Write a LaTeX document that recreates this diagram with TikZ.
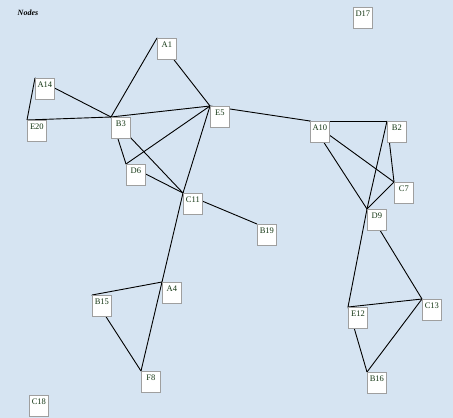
\documentclass[tikz,border=0pt]{standalone}
\usepackage{fontspec}
\setmainfont{Liberation Serif}
\usetikzlibrary{backgrounds,shadows}
\definecolor{bgblue}{RGB}{214,228,242}
\definecolor{labelgreen}{RGB}{20,55,20}

\begin{document}
\begin{tikzpicture}[x=1pt, y=-1pt, thick,
    main/.style = {draw=gray!75, fill=white, rectangle, anchor=north west,
        minimum width=19pt, minimum height=21pt, inner sep=0pt,
        text height=9pt, text depth=11pt, text=labelgreen,
        font=\fontsize{8.5}{9}\selectfont,
        drop shadow={shadow xshift=0.9pt, shadow yshift=-0.9pt, fill=gray!60, opacity=1}},
    edge/.style = {line width=0.9pt}]
    \useasboundingbox (0,0) rectangle (453,418);
    \node[anchor=west, font=\bfseries\itshape\fontsize{8}{9}\selectfont] (title) at (14,13) {Nodes};
    \node[main] (A1) at (157,38) {A1};
    \node[main] (A14) at (35,78) {A14};
    \node[main] (E20) at (27,120) {E20};
    \node[main] (B3) at (111,117) {B3};
    \node[main] (E5) at (210,106) {E5};
    \node[main] (D6) at (126,164) {D6};
    \node[main] (C11) at (183,193) {C11};
    \node[main] (D17) at (353,7) {D17};
    \node[main] (A10) at (310,121) {A10};
    \node[main] (B2) at (387,121) {B2};
    \node[main] (C7) at (394,182) {C7};
    \node[main] (D9) at (367,209) {D9};
    \node[main] (B19) at (257,224) {B19};
    \node[main] (C13) at (422,299) {C13};
    \node[main] (E12) at (348,307) {E12};
    \node[main] (B16) at (367,372) {B16};
    \node[main] (A4) at (162,282) {A4};
    \node[main] (B15) at (92,295) {B15};
    \node[main] (F8) at (141,371) {F8};
    \node[main] (C18) at (29,395) {C18};
    \begin{scope}[on background layer]
    \fill[bgblue] (0,0) rectangle (453,418);
    \foreach \a/\b in {B3/A1, A1/E5, A14/E20, A14/B3, E20/B3, B3/E5, B3/D6, B3/C11,
        D6/E5, D6/C11, E5/C11, C11/A4, C11/B19, E5/A10, A10/B2, A10/C7, A10/D9,
        B2/D9, B2/C7, C7/D9, D9/E12, D9/C13, E12/C13, E12/B16, C13/B16,
        A4/B15, A4/F8, B15/F8}
        \draw[edge] (\a.north west) -- (\b.north west);
    \end{scope}
\end{tikzpicture}
\end{document}
